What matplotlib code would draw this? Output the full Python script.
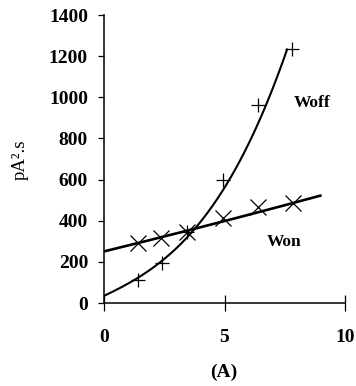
import numpy as np
import matplotlib
matplotlib.use("Agg")
import matplotlib.pyplot as plt

# Data points
woff_x = [1.42, 2.39, 3.43, 4.95, 6.40, 7.79]
woff_y = [110, 193, 347, 598, 963, 1233]
won_x = [1.42, 2.35, 3.43, 4.92, 6.40, 7.85]
won_y = [290, 314, 347, 412, 469, 485]

# Trend curves
woff_fit_x = [0.0, 1.49, 2.46, 3.57, 4.40, 4.68, 5.23, 5.37, 6.06, 6.75, 7.30, 7.61]
woff_fit_y = [39, 117, 209, 355, 444, 501, 598, 647, 792, 955, 1133, 1246]
won_fit_x = [0.0, 1.49, 3.57, 5.37, 9.03]
won_fit_y = [254, 290, 351, 416, 522]

x_ticks = [0, 5, 10]
y_ticks = [0, 200, 400, 600, 800, 1000, 1200, 1400]

W, H, DPI = 356, 386, 100
fig = plt.figure(figsize=(W / DPI, H / DPI), dpi=DPI)
left, right, top, bottom = 104, 345, 15, 303
ax = fig.add_axes([left / W, 1 - bottom / H, (right - left) / W, (bottom - top) / H])

serif = "Liberation Serif"

# fitted curves
cw = np.polyfit(woff_fit_x, woff_fit_y, 3)
xs = np.linspace(woff_fit_x[0], woff_fit_x[-1], 200)
ax.plot(xs, np.polyval(cw, xs), color="black", lw=1.5, solid_capstyle="butt")
cn = np.polyfit(won_fit_x, won_fit_y, 2)
xs2 = np.linspace(won_fit_x[0], won_fit_x[-1], 200)
ax.plot(xs2, np.polyval(cn, xs2), color="black", lw=1.9, solid_capstyle="butt")

ax.plot(woff_x, woff_y, linestyle="none", marker="+", ms=10, mew=0.9, color="black")
ax.plot(won_x, won_y, linestyle="none", marker="x", ms=11, mew=0.9, color="black")

ax.set_xlim(0, 10)
ax.set_ylim(0, 1400)
ax.set_xticks(x_ticks)
ax.set_yticks(y_ticks)
ax.set_xticklabels([str(v) for v in x_ticks], fontfamily=serif, fontweight="bold", fontsize=14)
ax.set_yticklabels([str(v) for v in y_ticks], fontfamily=serif, fontweight="bold", fontsize=14)
ax.tick_params(axis="x", direction="inout", length=11, width=0.9, pad=13)
ax.tick_params(axis="y", direction="out", length=4.5, width=0.9, pad=7)
ax.spines["top"].set_visible(False)
ax.spines["right"].set_visible(False)
for s in ("left", "bottom"):
    ax.spines[s].set_linewidth(1.1)
for ln in ax.lines:
    ln.set_clip_on(False)

ax.text(8.63, 974, "Woff", fontfamily=serif, fontweight="bold", fontsize=12.5,
        ha="center", va="center")
ax.text(7.49, 298, "Won", fontfamily=serif, fontweight="bold", fontsize=12.5,
        ha="center", va="center")

fig.text(20 / W, 1 - 160 / H, "pA².s", fontfamily=serif, fontsize=13.5,
         rotation=90, ha="center", va="center")
fig.text(224 / W, 1 - 372 / H, "(A)", fontfamily=serif, fontweight="bold", fontsize=14,
         ha="center", va="center")

fig.savefig("out.png", dpi=DPI)
